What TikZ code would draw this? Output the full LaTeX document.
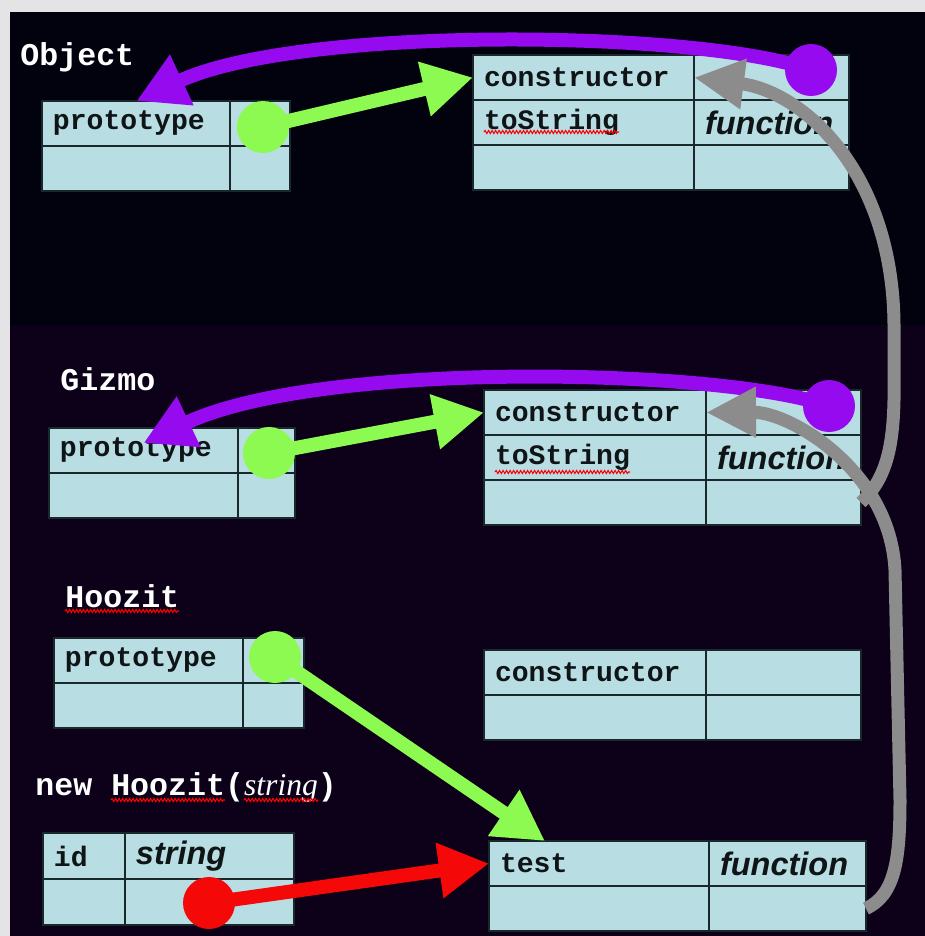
\documentclass[tikz,border=0pt]{standalone}
\usepackage{fontspec}
\setmainfont{Liberation Serif}
\setsansfont{Liberation Sans}
\setmonofont{Liberation Mono}
\usetikzlibrary{arrows.meta}
\usetikzlibrary{decorations.pathmorphing}

\definecolor{framegray}{RGB}{228,228,230}
\definecolor{bgtop}{RGB}{2,2,14}
\definecolor{bgbottom}{RGB}{12,1,24}
\definecolor{cellfill}{RGB}{184,221,226}
\definecolor{cellline}{RGB}{25,40,42}
\definecolor{celltext}{RGB}{15,20,22}
\definecolor{ptrgreen}{RGB}{140,250,80}
\definecolor{ptrpurple}{RGB}{150,10,240}
\definecolor{ptrred}{RGB}{245,8,8}
\definecolor{ptrgray}{RGB}{140,140,140}

\tikzset{
  slot/.style={draw=cellline, line width=1.2pt, fill=cellfill, anchor=north west, inner xsep=0.22cm, inner ysep=0pt, outer sep=0pt, minimum height=0.9cm, align=left, text=celltext, font=\ttfamily\bfseries\fontsize{16}{18}\selectfont},
  typetext/.style={font=\sffamily\bfseries\itshape\fontsize{18.5}{20}\selectfont},
  objtitle/.style={anchor=base west, inner sep=0pt, text=white, font=\ttfamily\bfseries\fontsize{18}{20}\selectfont},
  ptrdot/.style={circle, fill=#1, inner sep=0pt, minimum size=1.04cm},
  ptr/.style={draw=#1, line width=0.28cm, -{Triangle[length=1cm, width=1.05cm]}},
  ctorptr/.style={draw=ptrgray, line width=0.26cm, -{Triangle[length=1cm, width=0.95cm]}},
  spell/.style={draw=red, line width=0.6pt, decorate, decoration={snake, segment length=0.07cm, amplitude=0.03cm}}
}

\begin{document}
\begin{tikzpicture}[x=0.02cm, y=-0.02cm]
      \useasboundingbox (0,0) rectangle (925,936);
      \fill[framegray] (0,0) rectangle (925,936);
      \fill[bgbottom] (10,12) rectangle (925,936);
      \fill[bgtop] (10,12) rectangle (925,325);

      \node[objtitle] (object) at (20,66) {Object};
      \node[slot, text width=3.34cm] (obj-p) at (42,101) {prototype};
      \node[slot, text width=0.76cm] (obj-pv) at (230,101) {};
      \node[slot, text width=3.34cm] (obj-e) at (42,146) {};
      \node[slot, text width=0.76cm] (obj-ev) at (230,146) {};

      \node[slot, text width=3.98cm] (oproto-c) at (473,55) {constructor};
      \node[slot, text width=2.66cm] (oproto-cv) at (694,55) {};
      \node[slot, text width=3.98cm] (oproto-t) at (473,100) {toString};
      \node[slot, typetext, text width=2.66cm] (oproto-tv) at (694,100) {function};
      \node[slot, text width=3.98cm] (oproto-e) at (473,145) {};
      \node[slot, text width=2.66cm] (oproto-ev) at (694,145) {};

      \node[objtitle] (gizmo) at (60,390) {Gizmo};
      \node[slot, text width=3.34cm] (giz-p) at (49,428) {prototype};
      \node[slot, text width=0.70cm] (giz-pv) at (238,428) {};
      \node[slot, text width=3.34cm] (giz-e) at (49,473) {};
      \node[slot, text width=0.70cm] (giz-ev) at (238,473) {};

      \node[slot, text width=4.00cm] (gproto-c) at (484,390) {constructor};
      \node[slot, text width=2.66cm] (gproto-cv) at (706,390) {};
      \node[slot, text width=4.00cm] (gproto-t) at (484,435) {toString};
      \node[slot, typetext, text width=2.66cm] (gproto-tv) at (706,435) {function};
      \node[slot, text width=4.00cm] (gproto-e) at (484,480) {};
      \node[slot, text width=2.66cm] (gproto-ev) at (706,480) {};

      \node[objtitle] (hoozit) at (65,607) {Hoozit};
      \node[slot, text width=3.34cm] (hoo-p) at (54,638) {prototype};
      \node[slot, text width=0.78cm] (hoo-pv) at (243,638) {};
      \node[slot, text width=3.34cm] (hoo-e) at (54,683) {};
      \node[slot, text width=0.78cm] (hoo-ev) at (243,683) {};

      \node[slot, text width=4.00cm] (hproto-c) at (484,650) {constructor};
      \node[slot, text width=2.66cm] (hproto-cv) at (706,650) {};
      \node[slot, text width=4.00cm] (hproto-e) at (484,695) {};
      \node[slot, text width=2.66cm] (hproto-ev) at (706,695) {};

      \node[objtitle] (newhoozit) at (35,795) {new Hoozit({\rmfamily\mdseries\itshape string})};
      \node[slot, text width=1.20cm, minimum height=0.92cm] (inst-id) at (43,833) {id};
      \node[slot, typetext, text width=2.94cm, minimum height=0.92cm] (inst-idv) at (125,833) {string};
      \node[slot, text width=1.20cm, minimum height=0.92cm] (inst-e) at (43,879) {};
      \node[slot, text width=2.94cm, minimum height=0.92cm] (inst-ev) at (125,879) {};

      \node[slot, text width=3.96cm] (test-k) at (489,841) {test};
      \node[slot, typetext, text width=2.70cm] (test-kv) at (709,841) {function};
      \node[slot, text width=3.96cm] (test-e) at (489,886) {};
      \node[slot, text width=2.70cm] (test-ev) at (709,886) {};

      \draw[spell] (484,132) -- (619,132);
      \draw[spell] (495,472) -- (630,472);
      \draw[spell] (65,611) -- (179,611);
      \draw[spell] (111,800) -- (225,800);
      \draw[spell] (244,800) -- (318,800);

      \coordinate (giz-in) at ([yshift=-0.3cm]giz-p.north);
      \coordinate (test-in) at ([xshift=1.12cm]test-k.north west);

      \node[ptrdot=ptrpurple] (oproto-dot) at (811,70) {};
      \node[ptrdot=ptrpurple] (gproto-dot) at (829,406) {};
      \node[ptrdot=ptrgreen] (obj-dot) at (263,127) {};
      \node[ptrdot=ptrgreen] (giz-dot) at (269,453) {};
      \node[ptrdot=ptrgreen] (hoo-dot) at (275,657) {};
      \node[ptrdot=ptrred] (inst-dot) at (209,903) {};

      \draw[ptr=ptrpurple] (oproto-dot.center) .. controls (700,30) and (300,25) .. (obj-p.north);
      \draw[ptr=ptrpurple] (gproto-dot.center) .. controls (720,368) and (320,360) .. (giz-in);
      \draw[ptr=ptrgreen] (obj-dot.center) -- (oproto-c.west);
      \draw[ptr=ptrgreen] (giz-dot.center) -- (gproto-c.west);
      \draw[ptr=ptrgreen] (hoo-dot.center) -- (test-in);
      \draw[ptr=ptrred] (inst-dot.center) -- (test-k.west);

      \draw[ctorptr] (test-ev.east) .. controls (895,895) and (900,860) .. (900,800) -- (895,570) .. controls (890,470) and (790,412) .. (gproto-cv.west);
      \draw[ctorptr] (gproto-ev.east) .. controls (885,480) and (893,450) .. (894,400) -- (894,330) .. controls (895,175) and (805,92) .. (oproto-cv.west);
    \end{tikzpicture}
\end{document}
